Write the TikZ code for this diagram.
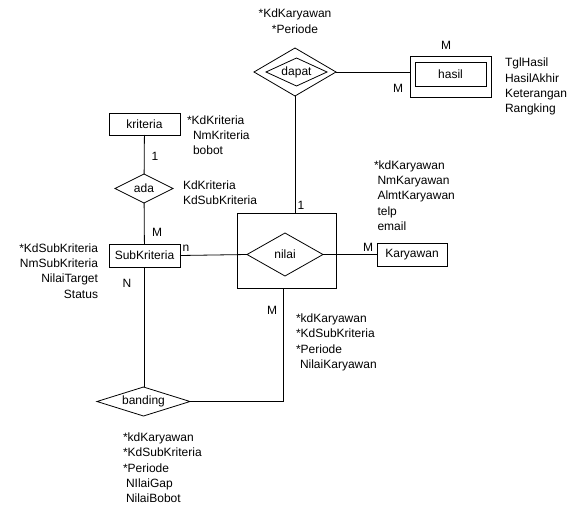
\documentclass[tikz,border=0pt]{standalone}
\usepackage{fontspec}
\setmainfont{Liberation Sans}
\usetikzlibrary{shapes.geometric}

\begin{document}
\begin{tikzpicture}[y=1pt, x=1pt, yscale=-1, inner sep=0pt, outer sep=0pt,
  every node/.style={font=\fontsize{12}{15.4}\selectfont},
  line width=0.8pt,
  entitas/.style={draw, rectangle, minimum width=71, minimum height=23},
  relasi/.style={draw, diamond},
  atribut/.style={align=left, anchor=north west}]
\useasboundingbox (0,0) rectangle (569,508);

  % entitas
  \node[entitas, minimum height=22] (kriteria) at (144.5,124) {kriteria};
  \node[entitas] (subkriteria) at (144.5,255.5) {SubKriteria};
  \node[entitas, minimum width=70] (karyawan) at (412,254.5) {Karyawan};
  \node[draw, minimum width=81, minimum height=41] (hasilluar) at (450.5,76.5) {};
  \node[entitas, minimum height=24] (hasil) at (450.5,74) {hasil};

  % relasi
  \node[relasi, aspect=2, minimum width=58, minimum height=29] (ada) at (144,188.5) {ada};
  \node[draw, minimum width=99, minimum height=75] (nilaibox) at (286.5,250.5) {};
  \node[relasi, aspect=1.77, minimum width=76, minimum height=43] (nilai) at (285,254.5) {nilai};
  \node[relasi, aspect=1.7, minimum width=82, minimum height=48] (dapatluar) at (295,72) {};
  \node[relasi, aspect=2.2, minimum width=61, minimum height=28] (dapat) at (296.5,72) {dapat};
  \node[relasi, aspect=3.2, minimum width=93, minimum height=29] (banding) at (143.5,401.5) {banding};

  % garis
  \draw (kriteria) -- (ada);
  \draw (ada) -- (subkriteria);
  \draw (subkriteria.east) -- (nilai.west);
  \draw (nilai.east) -- (karyawan.west);
  \draw (dapatluar.south) -- (dapatluar.south |- nilaibox.north);
  \draw (dapatluar.east) -- (dapatluar.east -| hasilluar.west);
  \draw (subkriteria.south) -- (subkriteria.south |- banding.north);
  \draw (banding.east) -| ([xshift=-3.5]nilaibox.south);

  % kardinalitas
  \node (c1) at (446,45) {M};
  \node (c2) at (398,88) {M};
  \node (c3) at (301,205) {1};
  \node (c4) at (155,156) {1};
  \node (c5) at (157,232) {M};
  \node (c6) at (186,248) {n};
  \node (c7) at (127,283) {N};
  \node (c8) at (368,247) {M};
  \node (c9) at (272,310) {M};

  % atribut
  \node[align=center, anchor=north] (atrdapat) at (295,9) {*KdKaryawan\\*Periode};
  \node[atribut] (atrhasil) at (505,58) {TglHasil\\HasilAkhir\\Keterangan\\Rangking};
  \node[atribut] (atrkriteria) at (187,115.5) {*KdKriteria\\\hspace*{6pt}NmKriteria\\\hspace*{6pt}bobot};
  \node[atribut] (atrada) at (183,180.5) {KdKriteria\\KdSubKriteria};
  \node[align=right, anchor=north east] (atrsub) at (98,243.5) {*KdSubKriteria\\NmSubKriteria\\NilaiTarget\\Status};
  \node[atribut] (atrkaryawan) at (374,160.5) {*kdKaryawan\\\hspace*{3.5pt}NmKaryawan\\\hspace*{3.5pt}AlmtKaryawan\\\hspace*{3.5pt}telp\\\hspace*{3.5pt}email};
  \node[atribut] (atrnilai) at (296,313.5) {*kdKaryawan\\*KdSubKriteria\\*Periode\\\hspace*{4pt}NilaiKaryawan};
  \node[atribut] (atrbanding) at (123,432.5) {*kdKaryawan\\*KdSubKriteria\\*Periode\\\hspace*{3pt}NIlaiGap\\\hspace*{3pt}NilaiBobot};
\end{tikzpicture}
\end{document}
